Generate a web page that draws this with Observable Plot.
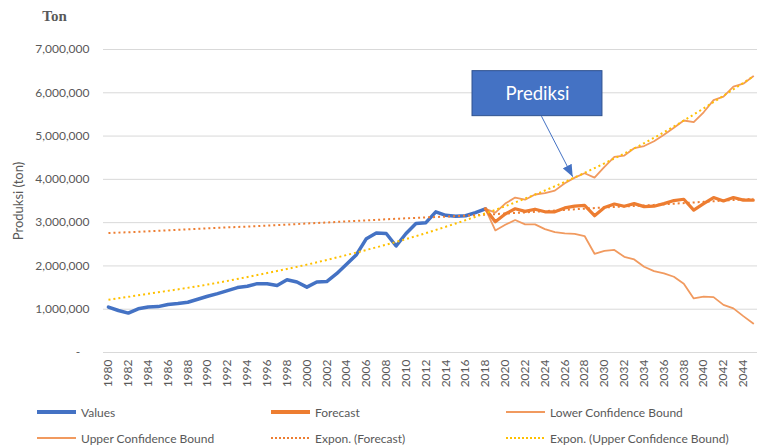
<!DOCTYPE html>
<html>
<head>
<meta charset="utf-8">
<script src="https://cdn.jsdelivr.net/npm/d3@7"></script>
<script src="https://cdn.jsdelivr.net/npm/@observablehq/plot@0.6"></script>
<style>
  html, body { margin: 0; padding: 0; background: #fff; }
  #wrap { position: relative; width: 757px; height: 446px; overflow: hidden; font-family: Lato, "Noto Sans", sans-serif; }
  .lg { position: absolute; display: flex; align-items: center; font-size: 12px; color: #595959; white-space: nowrap; }
  .lg svg { margin-right: 4px; }
</style>
</head>
<body>
<div id="wrap"></div>
<script>
// ---- Data (values in tons) ----
const histYears = d3.range(1980, 2019);
const histValues = [1.05, 0.97, 0.91, 1.01, 1.05, 1.06, 1.11, 1.13, 1.16, 1.23,
                    1.30, 1.36, 1.43, 1.50, 1.53, 1.59, 1.59, 1.55, 1.68, 1.63,
                    1.51, 1.63, 1.64, 1.82, 2.04, 2.26, 2.63, 2.76, 2.75, 2.46,
                    2.75, 2.98, 3.00, 3.25, 3.17, 3.15, 3.16, 3.23, 3.32].map(v => v * 1e6);

const fcYears = d3.range(2018, 2046);
const forecast = [3.32, 3.02, 3.20, 3.32, 3.26, 3.31, 3.25, 3.25, 3.34, 3.38,
                  3.40, 3.16, 3.35, 3.43, 3.38, 3.44, 3.37, 3.38, 3.44, 3.51,
                  3.54, 3.29, 3.44, 3.58, 3.50, 3.58, 3.52, 3.52].map(v => v * 1e6);
const upperBound = [3.32, 3.23, 3.44, 3.58, 3.53, 3.65, 3.68, 3.74, 3.91, 4.04,
                    4.14, 4.04, 4.29, 4.52, 4.55, 4.72, 4.77, 4.88, 5.03, 5.19,
                    5.36, 5.32, 5.55, 5.83, 5.91, 6.14, 6.21, 6.38].map(v => v * 1e6);
const lowerBound = [3.32, 2.82, 2.95, 3.06, 2.96, 2.96, 2.85, 2.78, 2.75, 2.74,
                    2.69, 2.28, 2.35, 2.37, 2.21, 2.15, 1.98, 1.88, 1.83, 1.75,
                    1.59, 1.25, 1.29, 1.28, 1.10, 1.02, 0.84, 0.67].map(v => v * 1e6);

// exponential trendlines, read every 5 years
const trendYears = [1980, 1985, 1990, 1995, 2000, 2005, 2010, 2015, 2020, 2025, 2030, 2035, 2040, 2045];
const trendForecast = [2.76, 2.81, 2.87, 2.92, 2.98, 3.04, 3.10, 3.15, 3.21, 3.28, 3.35, 3.41, 3.48, 3.55].map(v => v * 1e6);
const trendUpper = [1.22, 1.39, 1.57, 1.79, 2.03, 2.31, 2.62, 2.98, 3.38, 3.84, 4.37, 4.96, 5.64, 6.38].map(v => v * 1e6);

const yTicks = [0, 1e6, 2e6, 3e6, 4e6, 5e6, 6e6, 7e6];
const xTicks = d3.range(1980, 2045, 2);

const note = {text: "Prediksi", x1: 2016.7, x2: 2029.8, y1: 5.46e6, y2: 6.50e6,
              ax1: 2023.65, ay1: 5.46e6, ax2: 2026.8, ay2: 4.06e6};

const C = {values: "#4472C4", forecast: "#ED7D31", bound: "#F19A5F", trendF: "#ED7D31", trendU: "#FFC000"};

const legendItems = [
  {label: "Values", color: C.values, width: 4, dash: null, left: 37, top: 412},
  {label: "Forecast", color: C.forecast, width: 4, dash: null, left: 271, top: 412},
  {label: "Lower Confidence Bound", color: C.bound, width: 2, dash: null, left: 506, top: 412},
  {label: "Upper Confidence Bound", color: C.bound, width: 2, dash: null, left: 37, top: 438},
  {label: "Expon. (Forecast)", color: C.trendF, width: 2, dash: "2,2", left: 271, top: 438},
  {label: "Expon. (Upper Confidence Bound)", color: C.trendU, width: 2, dash: "2,2", left: 506, top: 438}
];

// ---- tables ----
const hist = histYears.map((year, i) => ({year, value: histValues[i]}));
const fc = fcYears.map((year, i) => ({year, forecast: forecast[i], upper: upperBound[i], lower: lowerBound[i]}));
const trend = trendYears.map((year, i) => ({year, f: trendForecast[i], u: trendUpper[i]}));

const fmt = d3.format(",");
const chart = Plot.plot({
  width: 757,
  height: 400,
  marginLeft: 103,
  marginRight: 0,
  marginTop: 49,
  marginBottom: 48,
  style: {fontFamily: "Lato, 'Noto Sans', sans-serif", fontSize: "12px", color: "#595959", background: "white", overflow: "visible"},
  x: {domain: [1979.5, 2045.43], ticks: xTicks, tickFormat: d => String(d), tickRotate: -90, tickSize: 0, tickPadding: 7, label: null},
  y: {domain: [0, 7e6], ticks: yTicks, tickFormat: d => d === 0 ? "-\u00a0\u00a0\u00a0" : fmt(d), tickSize: 0, tickPadding: 14, label: null},
  marks: [
    Plot.ruleY(yTicks, {stroke: "#d9d9d9", strokeWidth: 1}),
    Plot.line(hist, {x: "year", y: "value", stroke: C.values, strokeWidth: 3.5, strokeLinejoin: "round", strokeLinecap: "round"}),
    Plot.line(fc, {x: "year", y: "upper", stroke: C.bound, strokeWidth: 1.8, strokeLinejoin: "round"}),
    Plot.line(fc, {x: "year", y: "lower", stroke: C.bound, strokeWidth: 1.8, strokeLinejoin: "round"}),
    Plot.line(fc, {x: "year", y: "forecast", stroke: C.forecast, strokeWidth: 3.2, strokeLinejoin: "round", strokeLinecap: "round"}),
    Plot.line(trend, {x: "year", y: "f", curve: "natural", stroke: C.trendF, strokeWidth: 2, strokeDasharray: "2,3", strokeLinecap: "butt"}),
    Plot.line(trend, {x: "year", y: "u", curve: "natural", stroke: C.trendU, strokeWidth: 2, strokeDasharray: "2,3", strokeLinecap: "butt"}),
    Plot.rect([note], {x1: "x1", x2: "x2", y1: "y1", y2: "y2", fill: "#4472C4", stroke: "#2F528F", strokeWidth: 1}),
    Plot.text([note], {x: d => (d.x1 + d.x2) / 2, y: d => (d.y1 + d.y2) / 2, text: "text", fill: "white", fontSize: 18.5, fontFamily: "Lato, sans-serif"}),
    Plot.link([note], {x1: "ax1", y1: "ay1", x2: "ax2", y2: "ay2", stroke: "#4472C4", strokeWidth: 1}),
    Plot.text(["Ton"], {frameAnchor: "top-left", text: d => d, dx: -49, dy: -33, textAnchor: "middle", lineAnchor: "middle", fontFamily: "'Liberation Serif', serif", fontWeight: "bold", fontSize: 15, fill: "#595959"}),
    Plot.text(["Produksi (ton)"], {frameAnchor: "left", text: d => d, dx: -85, rotate: -90, textAnchor: "middle", lineAnchor: "middle", fontSize: 13, fill: "#595959"})
  ]
});

// arrowhead for the annotation link
const svg = d3.select(chart);
const defs = svg.insert("defs", ":first-child");
defs.append("marker")
  .attr("id", "prediksi-head")
  .attr("viewBox", "0 0 12 10")
  .attr("refX", 12).attr("refY", 5)
  .attr("markerWidth", 12).attr("markerHeight", 10)
  .attr("markerUnits", "userSpaceOnUse")
  .attr("orient", "auto")
  .append("path").attr("d", "M0,0L12,5L0,10z").attr("fill", "#4472C4");
svg.selectAll("g[aria-label='link'] path").attr("marker-end", "url(#prediksi-head)");

const wrap = document.getElementById("wrap");
wrap.appendChild(chart);

// legend
for (const it of legendItems) {
  const div = document.createElement("div");
  div.className = "lg";
  div.style.left = it.left + "px";
  div.style.top = (it.top - 9) + "px";
  div.style.height = "18px";
  const s = d3.create("svg").attr("width", 40).attr("height", 10);
  s.append("line").attr("x1", 0).attr("x2", 39).attr("y1", 5).attr("y2", 5)
    .attr("stroke", it.color).attr("stroke-width", it.width)
    .attr("stroke-dasharray", it.dash);
  div.appendChild(s.node());
  const span = document.createElement("span");
  span.textContent = it.label;
  div.appendChild(span);
  wrap.appendChild(div);
}
</script>
</body>
</html>
